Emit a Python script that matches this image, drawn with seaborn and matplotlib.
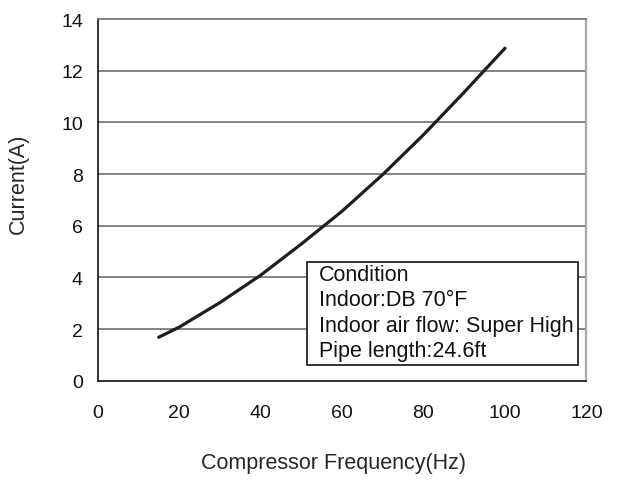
import seaborn as sns
import pandas as pd
import numpy as np
import matplotlib.pyplot as plt
from matplotlib.patches import Rectangle

# values
freq_hz = [15, 20, 30, 40, 50, 60, 70, 80, 90, 100]
current_a = [1.68, 2.07, 3.02, 4.08, 5.29, 6.56, 7.98, 9.52, 11.17, 12.87]
x_ticks = [0, 20, 40, 60, 80, 100, 120]
y_ticks = [0, 2, 4, 6, 8, 10, 12, 14]
condition_lines = ["Condition", "Indoor:DB 70°F",
                   "Indoor air flow: Super High", "Pipe length:24.6ft"]

df = pd.DataFrame({"freq": freq_hz, "current": current_a})

sns.set_style("white")
plt.rcParams['font.family'] = ['Liberation Sans', 'DejaVu Sans']

fig = plt.figure(figsize=(6.18, 4.81), dpi=100)
ax = fig.add_axes([0.1578, 0.2064, 0.7912, 0.752])

ax.grid(False)
for y in y_ticks[1:-1]:
    ax.axhline(y, color='#7a7a7a', lw=1.3, zorder=1)

sns.lineplot(data=df, x="freq", y="current", ax=ax, color='#1e1e1e',
             lw=2.3, zorder=3)

ax.set_xlim(0, 120)
ax.set_ylim(0, 14)
ax.set_xticks(x_ticks)
ax.set_yticks(y_ticks)
ax.tick_params(axis='x', direction='in', length=5.5, width=1, color='#222222',
               pad=17, labelsize=14)
ax.tick_params(axis='y', direction='in', length=5, width=1.3, color='#222222',
               pad=10.5, labelsize=14)
ax.tick_params(colors='#111111', which='both')

for side in ['left', 'bottom']:
    ax.spines[side].set_color('#111111')
    ax.spines[side].set_linewidth(1.2)
ax.spines['top'].set_color('#7a7a7a')
ax.spines['top'].set_linewidth(1.3)
ax.spines['right'].set_color('#a8a8a8')
ax.spines['right'].set_linewidth(1.6)

ax.set_xlabel("Compressor Frequency(Hz)", fontsize=15.5, va='center')
ax.set_ylabel("Current(A)", fontsize=15.5, va='center')
ax.xaxis.set_label_coords(0.4816, -0.2248)
ax.yaxis.set_label_coords(-0.161, 0.547)

# condition box
box = Rectangle((0.4278, 0.0434), 0.9836 - 0.4278, 0.329 - 0.0434,
                transform=ax.transAxes, facecolor='white', edgecolor='#111111',
                lw=1.2, zorder=4)
ax.add_patch(box)
line_y = [0.295, 0.224, 0.152, 0.083]
for txt, yy in zip(condition_lines, line_y):
    ax.text(0.4535, yy, txt, transform=ax.transAxes, fontsize=15.5,
            va='center', ha='left', color='#111111', zorder=5)

plt.savefig('out.png', dpi=100)
